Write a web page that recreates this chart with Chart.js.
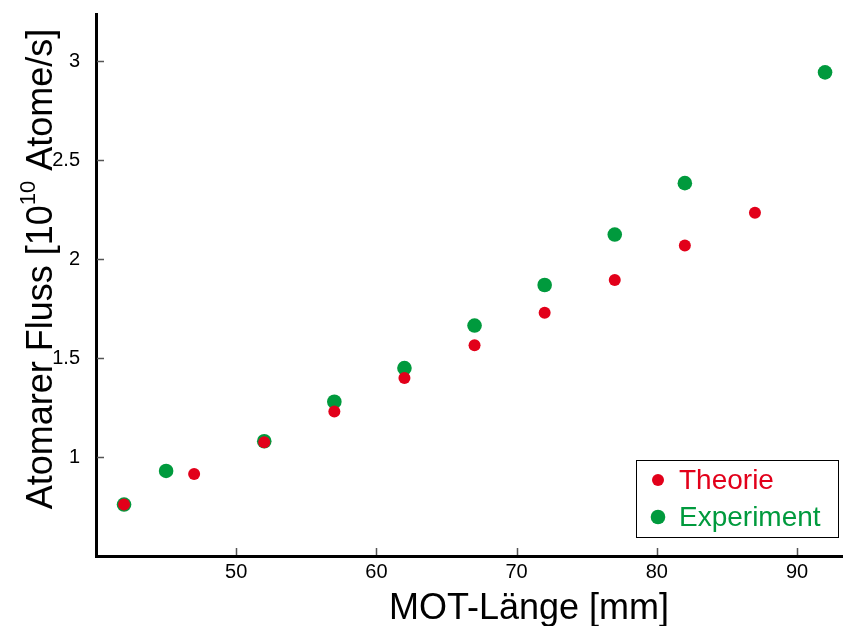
<!DOCTYPE html>
<html>
<head>
<meta charset="utf-8">
<style>
  html, body { margin: 0; padding: 0; background: #fff; }
  #wrap { width: 843px; height: 626px; }
</style>
<script src="https://cdn.jsdelivr.net/npm/chart.js@4.4.1/dist/chart.umd.min.js"></script>
</head>
<body>
<div id="wrap"><canvas id="c" width="843" height="626"></canvas></div>
<script>
// MOT length in mm and atomic flux in 10^10 atoms/s
const theorieLaenge = [42, 47, 52, 57, 62, 67, 72, 77, 82, 87];
const theorieFluss  = [0.76, 0.915, 1.075, 1.23, 1.40, 1.565, 1.73, 1.895, 2.07, 2.235];
const experimentLaenge = [42, 45, 52, 57, 62, 67, 72, 77, 82, 92];
const experimentFluss  = [0.76, 0.93, 1.08, 1.28, 1.45, 1.665, 1.87, 2.125, 2.385, 2.945];

const xTicks = [50, 60, 70, 80, 90];
const yTicks = [1, 1.5, 2, 2.5, 3];

const ROT = '#e2001a';
const GRUEN = '#009a3d';
const FONT = '"Liberation Sans", Arial, Helvetica, sans-serif';

function toPoints(xs, ys) { return xs.map((x, i) => ({ x: x, y: ys[i] })); }

// Keep the plot box fixed: no extra room reserved for overhanging tick labels
function noPadding(s) {
  s.paddingTop = 0; s.paddingBottom = 0; s.paddingLeft = 0; s.paddingRight = 0;
}

// Short tick marks pointing into the plot area, plus axis titles and the boxed legend
const decor = {
  id: 'decor',
  afterDatasetsDraw(chart) {
    const ctx = chart.ctx;
    const a = chart.chartArea;
    const xs = chart.scales.x, ys = chart.scales.y;
    ctx.save();
    ctx.strokeStyle = '#555';
    ctx.lineWidth = 1.5;
    ctx.beginPath();
    yTicks.forEach(v => {
      const p = Math.round(ys.getPixelForValue(v)) + 0.5;
      ctx.moveTo(a.left + 1, p); ctx.lineTo(a.left + 8, p);
    });
    xTicks.forEach(v => {
      const p = Math.round(xs.getPixelForValue(v)) + 0.5;
      ctx.moveTo(p, a.bottom - 1); ctx.lineTo(p, a.bottom - 8);
    });
    ctx.stroke();

    // x axis title
    ctx.fillStyle = '#000';
    ctx.font = '36px ' + FONT;
    ctx.textAlign = 'center';
    ctx.textBaseline = 'alphabetic';
    ctx.fillText('MOT-Länge [mm]', 529, 619);

    // y axis title with superscript exponent
    const parts = [
      { t: 'Atomarer Fluss [10', size: 36, dy: 0 },
      { t: '10', size: 22, dy: -17 },
      { t: ' Atome/s]', size: 36, dy: 0 }
    ];
    let total = 0;
    parts.forEach(p => { ctx.font = p.size + 'px ' + FONT; p.w = ctx.measureText(p.t).width; total += p.w; });
    ctx.translate(52, 269);
    ctx.rotate(-Math.PI / 2);
    ctx.textAlign = 'left';
    let x = -total / 2;
    parts.forEach(p => {
      ctx.font = p.size + 'px ' + FONT;
      ctx.fillText(p.t, x, p.dy);
      x += p.w;
    });
    ctx.restore();

    // legend box
    ctx.save();
    ctx.fillStyle = '#fff';
    ctx.fillRect(636, 460, 203, 78);
    ctx.strokeStyle = '#000';
    ctx.lineWidth = 1;
    ctx.strokeRect(636.5, 460.5, 202, 77);
    ctx.font = '28px ' + FONT;
    ctx.textAlign = 'left';
    ctx.textBaseline = 'middle';
    const rows = [480, 517];
    chart.data.datasets.forEach((ds, i) => {
      ctx.fillStyle = ds.backgroundColor;
      ctx.beginPath();
      ctx.arc(658, rows[i], ds.pointRadius, 0, Math.PI * 2);
      ctx.fill();
      ctx.fillText(ds.label, 679, rows[i] + 1);
    });
    ctx.restore();
  }
};

new Chart(document.getElementById('c'), {
  type: 'scatter',
  data: {
    datasets: [
      {
        label: 'Theorie',
        data: toPoints(theorieLaenge, theorieFluss),
        backgroundColor: ROT,
        borderWidth: 0,
        pointRadius: 6,
        pointHoverRadius: 6,
        order: 0
      },
      {
        label: 'Experiment',
        data: toPoints(experimentLaenge, experimentFluss),
        backgroundColor: GRUEN,
        borderWidth: 0,
        pointRadius: 7.3,
        pointHoverRadius: 7.3,
        order: 1
      }
    ]
  },
  options: {
    responsive: false,
    animation: false,
    events: [],
    layout: { autoPadding: false, padding: { top: 14, right: 0, left: 0, bottom: 0 } },
    plugins: {
      legend: { display: false },
      tooltip: { enabled: false }
    },
    scales: {
      x: {
        type: 'linear',
        min: 40,
        max: 93.28,
        afterFit(s) { s.height = 70; noPadding(s); },
        afterBuildTicks(s) { s.ticks = xTicks.map(v => ({ value: v })); },
        grid: { display: true, drawOnChartArea: false, drawTicks: false, color: 'rgba(0,0,0,0)' },
        border: { display: true, color: '#000', width: 3 },
        ticks: {
          padding: 4,
          color: '#000',
          font: { family: FONT, size: 20 },
          maxRotation: 0,
          autoSkip: false,
          callback: v => String(v)
        }
      },
      y: {
        type: 'linear',
        min: 0.5,
        max: 3.24,
        afterFit(s) { s.width = 96; noPadding(s); },
        afterBuildTicks(s) { s.ticks = yTicks.map(v => ({ value: v })); },
        grid: { display: true, drawOnChartArea: false, drawTicks: false, color: 'rgba(0,0,0,0)' },
        border: { display: true, color: '#000', width: 3 },
        ticks: {
          padding: 16,
          color: '#000',
          font: { family: FONT, size: 20 },
          autoSkip: false,
          callback: v => String(v)
        }
      }
    }
  },
  plugins: [decor]
});
</script>
</body>
</html>
